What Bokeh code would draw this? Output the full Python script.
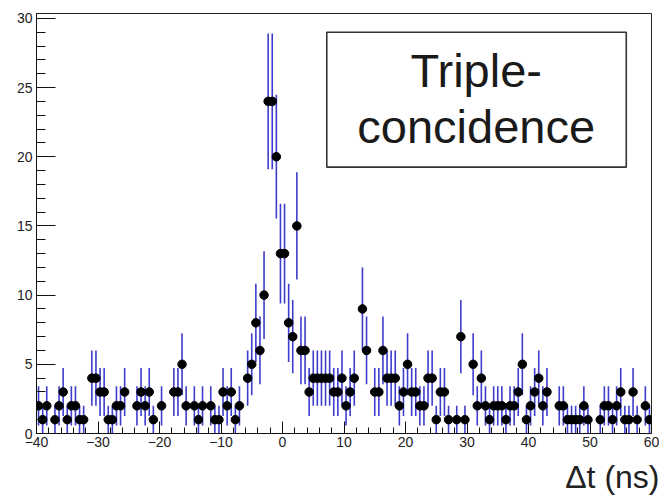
import numpy as np
from bokeh.plotting import figure
from bokeh.models import Range1d, FixedTicker, BoxAnnotation, Label, Title
from bokeh.embed import file_html
from bokeh.resources import INLINE

# ---------------- data ----------------
x_min, x_max, n_bins = -40.0, 60.0, 150
counts = [
    2, 1, 2, 0, 1, 2, 3, 1, 2, 2,
    1, 1, 0, 4, 4, 3, 3, 1, 1, 2,
    2, 3, 0, 0, 2, 3, 2, 3, 1, 0,
    2, 0, 0, 3, 3, 5, 2, 0, 2, 1,
    2, 0, 2, 1, 1, 3, 2, 3, 1, 2,
    0, 4, 5, 8, 6, 10, 24, 24, 20, 13,
    13, 8, 7, 15, 6, 6, 3, 4, 4, 4,
    4, 4, 3, 3, 4, 2, 3, 4, 0, 9,
    6, 0, 3, 3, 6, 4, 4, 4, 2, 3,
    5, 3, 3, 2, 2, 4, 4, 1, 3, 3,
    1, 0, 1, 7, 1, 0, 5, 2, 4, 2,
    1, 2, 2, 2, 1, 2, 2, 3, 5, 1,
    2, 3, 4, 2, 3, 0, 0, 2, 2, 1,
    1, 1, 1, 2, 1, 0, 0, 1, 2, 2,
    1, 2, 3, 1, 1, 3, 1, 0, 2, 1,
]
x_ticks = [-40, -30, -20, -10, 0, 10, 20, 30, 40, 50, 60]
x_tick_labels = ["\u221240", "\u221230", "\u221220", "\u221210", "0", "10", "20", "30", "40", "50", "60"]
x_minor = list(range(-40, 61, 2))
y_ticks = [0, 5, 10, 15, 20, 25, 30]
y_tick_labels = ["0", "5", "10", "15", "20", "25", "30"]
y_minor = list(range(0, 31, 1))
box_lines = ["Triple-", "concidence"]
x_title = "\u0394t (ns)"

# ---------------- derived ----------------
bw = (x_max - x_min) / n_bins
centers = x_min + bw * (np.arange(n_bins) + 0.5)
c = np.array(counts, dtype=float)
err = np.sqrt(c)
m = c > 0

p = figure(width=659, height=504, output_backend="svg", toolbar_location=None,
           x_range=Range1d(x_min, x_max), y_range=Range1d(0, 30.35),
           min_border_left=36, min_border_right=8, min_border_top=13,
           min_border_bottom=71, background_fill_color="white",
           border_fill_color="white")
p.grid.visible = False
p.outline_line_color = "#222222"
p.outline_line_width = 1

p.segment(x0=centers[m], y0=(c - err)[m], x1=centers[m], y1=(c + err)[m],
          line_color="#3d3dcc", line_width=1.6)
p.scatter(centers[m], c[m], size=8.5, color="black")

# axes
font = "Liberation Sans"
p.xaxis.ticker = FixedTicker(ticks=x_ticks, minor_ticks=x_minor)
p.xaxis.major_label_overrides = {t: l for t, l in zip(x_ticks, x_tick_labels)}
p.yaxis.ticker = FixedTicker(ticks=y_ticks, minor_ticks=y_minor)
p.yaxis.major_label_overrides = {t: l for t, l in zip(y_ticks, y_tick_labels)}
for ax in (p.xaxis[0], p.yaxis[0]):
    ax.major_tick_out = 0
    ax.minor_tick_out = 0
    ax.axis_line_color = "#111111"
    ax.major_tick_line_color = "#111111"
    ax.minor_tick_line_color = "#111111"
    ax.major_label_text_font = font
    ax.major_label_text_font_size = "14px"
    ax.major_label_text_color = "#222222"
p.xaxis.major_tick_in = 12
p.xaxis.minor_tick_in = 6
p.xaxis.major_label_standoff = 3
p.yaxis.major_tick_in = 19
p.yaxis.minor_tick_in = 9
p.yaxis.major_label_standoff = 4

# text box
box = BoxAnnotation(left=7.2, right=55.9, top=29.0, bottom=19.25,
                    fill_color="white", fill_alpha=1.0,
                    line_color="#333333", line_width=1.6, line_alpha=1.0)
p.add_layout(box)
p.add_layout(Label(x=31.5, y=24.3, text=box_lines[0], text_align="center",
                   text_font=font, text_font_size="47px", text_color="#1a1a1a"))
p.add_layout(Label(x=31.5, y=20.3, text=box_lines[1], text_align="center",
                   text_font=font, text_font_size="47px", text_color="#1a1a1a"))

p.add_layout(Title(text=x_title, align="right", text_font=font,
                   text_font_size="32px", text_font_style="normal",
                   text_color="#222222", offset=-8, standoff=14), "below")

open("out.html", "w").write(file_html(p, INLINE))
